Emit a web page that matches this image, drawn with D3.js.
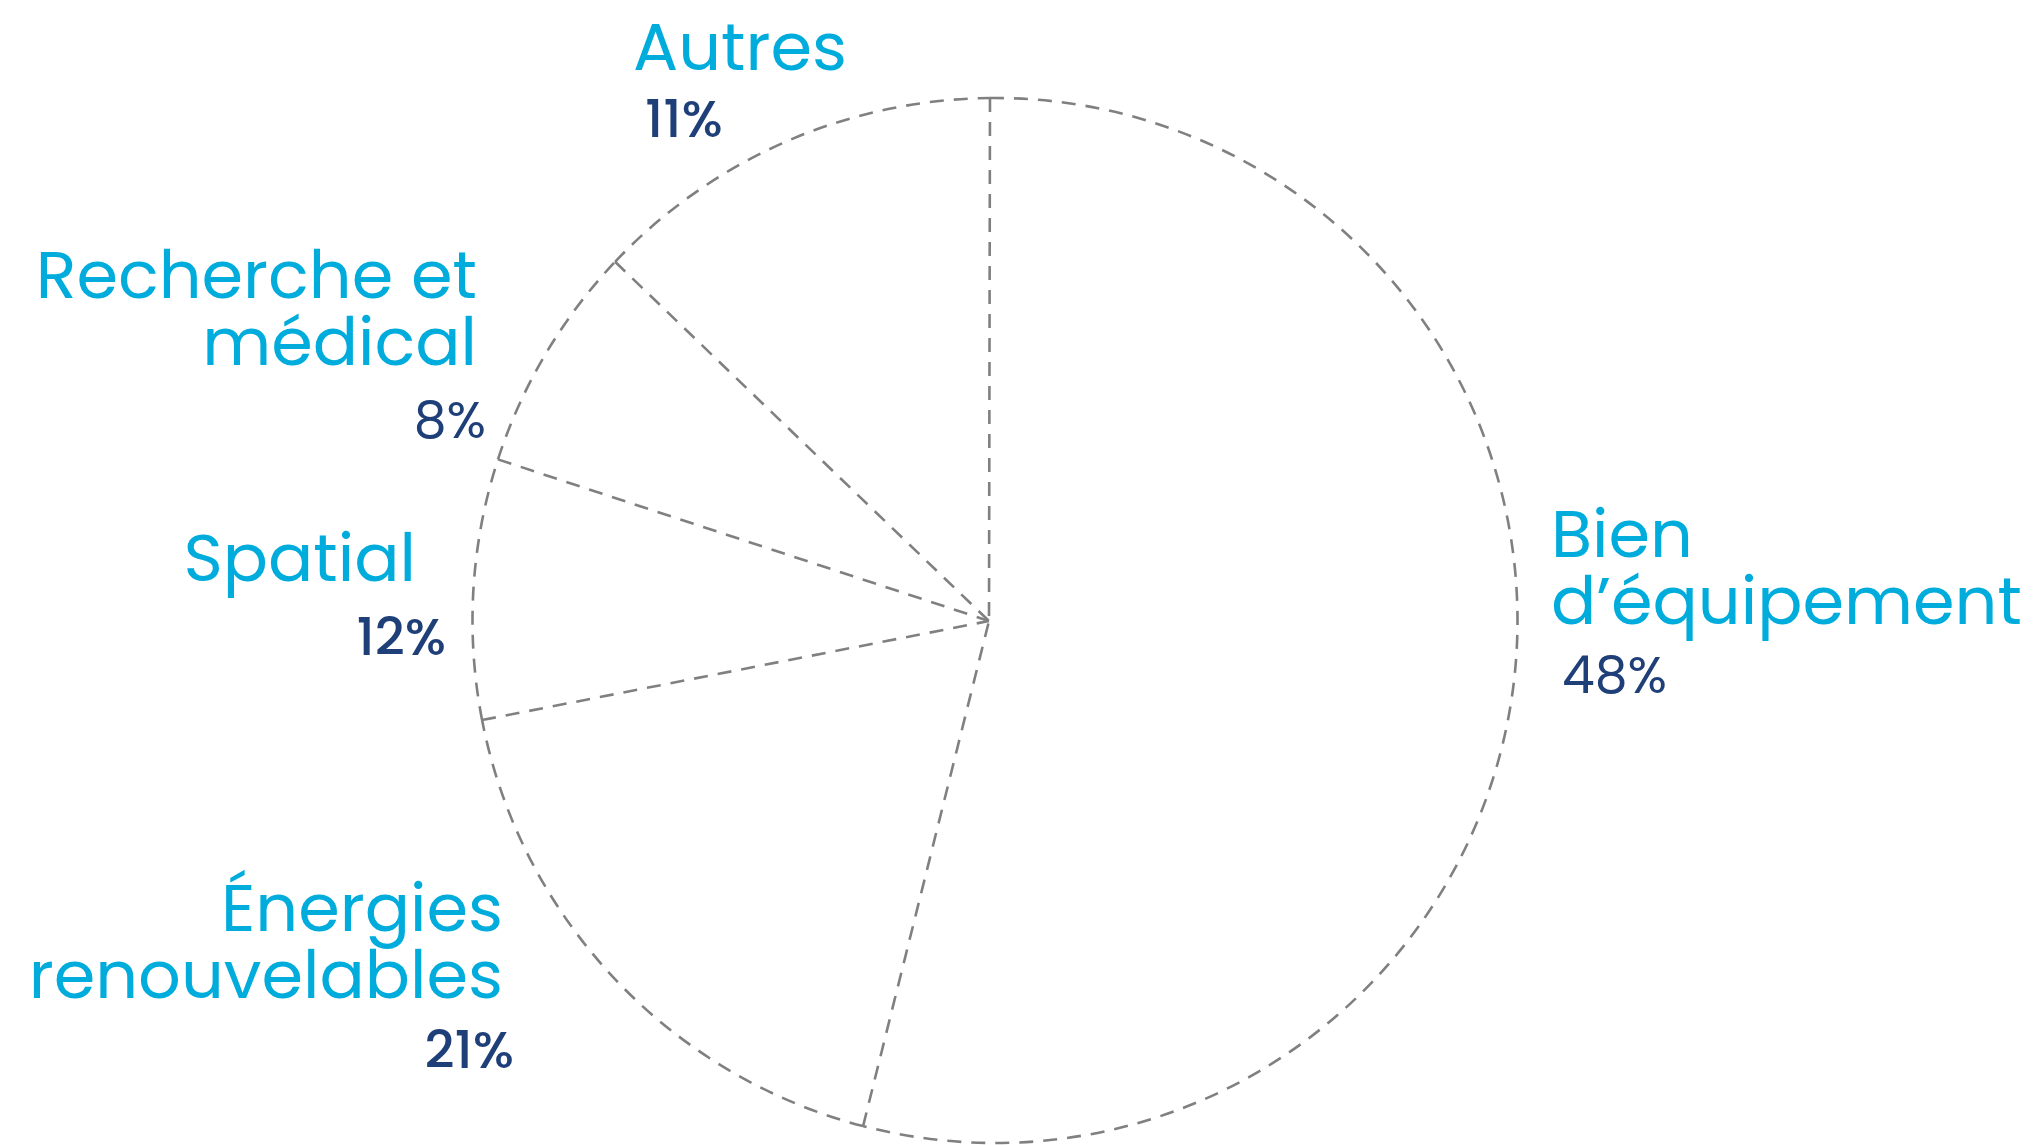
<!DOCTYPE html>
<html lang="fr">
<head>
    <meta charset="UTF-8">
    <title>Répartition</title>
    <script src="https://d3js.org/d3.v7.min.js"></script>
    <style>
        body {margin: 0; background: white;}
        text {font-family: Poppins, Inter, "Open Sans", sans-serif;}
        .label {fill: #00acdc; font-size: 67px; font-weight: 400;}
        .pct {fill: #1f3f78; font-size: 52px;}
    </style>
</head>
<body>
<script>
    const width = 2040;
    const height = 1145;

    // slices, clockwise from 12 o'clock
    const categories = ["Bien d’équipement", "Énergies renouvelables", "Spatial", "Recherche et médical", "Autres"];
    const sliceShares = [195.2, 64.4, 28.95, 25.4, 46.1];
    // percentages printed next to each label
    const pctLabels = ["48%", "21%", "12%", "8%", "11%"];
    const labelLines = [["Bien", "d’équipement"], ["Énergies", "renouvelables"], ["Spatial"], ["Recherche et", "médical"], ["Autres"]];

    // label placement (hand placed in the original)
    const layout = [
        {x: 1551, y: 557, anchor: "start", px: 1562, py: 693, pw: 400},
        {x: 503, y: 931, anchor: "end", px: 514, py: 1068, pw: 500},
        {x: 416, y: 581, anchor: "end", px: 446, py: 655, pw: 500},
        {x: 477, y: 298, anchor: "end", px: 486, py: 438, pw: 400},
        {x: 633, y: 70, anchor: "start", px: 645, py: 137, pw: 500}
    ];

    const cx = 995, cy = 620.5, r = 522.5;
    const hub = [-6, 0.5];          // the spokes meet a little left of the circle's centre
    const startAngle = -0.0096;
    const lineHeight = 66.5;

    const svg = d3.select("body").append("svg")
            .attr("width", width).attr("height", height);

    const pie = d3.pie().sort(null).value(d => d)
            .startAngle(startAngle).endAngle(startAngle + 2 * Math.PI);
    const arcs = pie(sliceShares);

    const g = svg.append("g").attr("transform", `translate(${cx},${cy})`);

    const dashed = sel => sel
            .style("fill", "none")
            .style("stroke", "#808080")
            .style("stroke-width", 2.6)
            .style("stroke-dasharray", "14 10");

    // outer arc of each slice
    g.selectAll("path.rim")
            .data(arcs)
            .enter()
            .append("path")
            .attr("class", "rim")
            .attr("d", d => {
                const p = d3.path();
                const [x0, y0] = d3.pointRadial(d.startAngle, r);
                p.moveTo(x0, y0);
                p.arc(0, 0, r, d.startAngle - Math.PI / 2, d.endAngle - Math.PI / 2);
                return p.toString();
            })
            .call(dashed);

    // radial boundaries, drawn from the rim inwards
    g.selectAll("line.spoke")
            .data(arcs)
            .enter()
            .append("line")
            .attr("class", "spoke")
            .attr("x1", d => d3.pointRadial(d.startAngle, r)[0])
            .attr("y1", d => d3.pointRadial(d.startAngle, r)[1])
            .attr("x2", hub[0]).attr("y2", hub[1])
            .call(dashed);

    const labels = svg.selectAll("g.lab")
            .data(categories)
            .enter()
            .append("g")
            .attr("class", "lab");

    labels.append("text")
            .attr("class", "label")
            .attr("text-anchor", (d, i) => layout[i].anchor)
            .each(function(d, i) {
                const lines = labelLines[i];
                const L = layout[i];
                d3.select(this).selectAll("tspan")
                        .data(lines)
                        .enter()
                        .append("tspan")
                        .attr("x", L.x)
                        .attr("y", (t, j) => L.y + j * lineHeight)
                        .text(t => t);
            });

    labels.append("text")
            .attr("class", "pct")
            .attr("text-anchor", (d, i) => layout[i].anchor)
            .attr("x", (d, i) => layout[i].px)
            .attr("y", (d, i) => layout[i].py)
            .style("font-weight", (d, i) => layout[i].pw)
            .text((d, i) => pctLabels[i]);
</script>
</body>
</html>
